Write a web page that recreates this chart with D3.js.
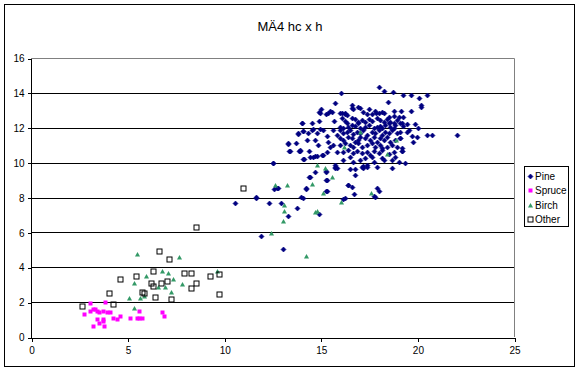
<!DOCTYPE html>
<html><head><meta charset="utf-8">
<script src="https://cdn.jsdelivr.net/npm/d3@7"></script>
<style>body{margin:0;background:#fff}svg{display:block;font-family:"Liberation Sans",Arial,sans-serif}</style>
</head><body>
<svg id="c" width="578" height="372"></svg>
<script>
const title = "MÄ4 hc x h";
const seriesNames = ["Pine","Spruce","Birch","Other"];
const xTicks = [0,5,10,15,20,25];
const yTicks = [0,2,4,6,8,10,12,14,16];

const pine = [
[18.0,14.32],[18.25,14.08],[18.75,14.05],[19.24,13.88],[19.67,13.88],[20.07,13.72],[20.48,13.88],[16.03,14.0],[18.5,13.45],[20.17,13.3],[20.17,13.2],
[19.17,12.98],[19.69,12.98],[19.24,12.63],[19.19,12.29],[19.48,12.2],[19.88,12.2],[19.24,12.1],[20.05,12.0],[19.57,11.87],[19.1,11.39],[19.7,11.52],
[19.96,11.48],[20.48,11.58],[20.74,11.58],[22.03,11.58],[19.76,11.2],[19.19,10.68],[19.36,9.99],
[15.71,13.44],[15.0,13.06],[14.9,12.9],[15.25,12.77],[15.39,12.83],[15.6,12.92],[16.08,12.83],[16.25,12.79],[16.68,13.06],
[15.47,12.96],[14.96,12.83],[14.9,12.39],[14.02,12.29],[14.52,12.29],[15.7,12.39],[14.61,11.91],[14.7,11.3],[14.82,11.68],[14.96,11.91],
[15.13,11.87],[15.33,11.53],[15.61,11.87],[15.82,11.59],[13.92,10.73],[14.13,10.19],[14.44,10.31],[14.7,10.39],[15.13,10.44],[15.3,10.63],
[15.47,10.92],[15.65,11.02],[15.82,10.63],[14.27,11.3],[15.39,11.21],[15.71,9.74],
[13.84,11.68],[14.1,11.84],[14.53,11.87],[14.35,11.68],[14.84,11.02],[13.32,11.11],[13.72,11.11],[13.37,10.69],[13.89,10.69],[14.41,10.69],
[12.54,10.0],[14.1,10.19],[14.58,10.31],[14.79,10.39],[15.04,10.44],[14.44,9.2],[14.7,9.49],[15.27,9.54],[15.3,9.01],[14.23,8.53],
[11.65,8.02],[12.72,8.53],[12.8,8.53],[15.3,8.4],[15.73,9.87],[15.82,9.68],[16.42,8.72],[16.6,8.59],[16.25,7.96],[16.51,9.62],[16.77,9.62],
[16.77,9.3],[17.17,9.68],[17.37,9.74],[17.89,9.74],[17.92,8.53],[17.75,8.09],
[14.01,12.29],[14.1,11.81],[13.8,11.64],[13.3,11.07],[13.4,10.68],[13.9,10.68],[12.51,9.99],[14.4,9.19],[14.22,8.49],[12.6,8.49],
[11.63,7.99],[13.98,8.04],[14.1,7.99],[10.54,7.7],[12.3,7.7],[12.92,7.7],[13.79,7.41],[13.3,6.96],[11.9,5.79],[13.03,5.05],[14.9,7.05],
[15.72,9.71],[17.2,9.8],[17.38,9.86],[18.67,9.71],[15.27,9.48],[15.27,9.0],[16.39,8.72],[15.27,8.37],[16.72,8.2],[18.0,8.37],[17.8,8.04],[16.17,7.91],
[16.0,12.87],[16.26,12.83],[16.38,12.75],[16.6,13.12],[16.6,13.31],[16.9,13.21],[17.04,13.12],[17.21,12.93],[17.38,12.77],[17.52,13.06],
[17.64,12.77],[17.82,12.98],[17.87,12.83],[17.99,12.83],[18.16,12.93],[18.25,12.83],[18.51,12.64],[18.77,12.68],[19.03,12.64],[18.77,12.98],
[16.09,12.54],[16.26,12.41],[16.35,12.26],[16.6,12.54],[16.78,12.49],[16.95,12.35],[17.12,12.45],[17.3,12.35],[17.47,12.49],[17.64,12.41],
[17.9,12.54],[18.08,12.45],[18.25,12.35],[18.42,12.49],[18.6,12.35],[18.77,12.3],[18.94,12.45],[19.08,12.26],[18.51,12.26],
[16.0,12.07],[16.17,11.97],[16.43,12.07],[16.6,12.16],[16.78,12.1],[16.95,12.26],[17.04,11.97],[17.3,12.07],[17.47,12.16],[17.73,11.97],
[17.9,12.07],[18.04,12.1],[18.16,11.97],[18.34,12.16],[18.6,12.07],[18.77,11.97],[18.85,12.16],
[16.0,11.87],[16.14,11.68],[16.35,11.78],[16.52,11.87],[16.69,11.65],[16.87,11.78],[17.04,11.68],[17.21,11.87],[17.38,11.59],[17.64,11.78],
[17.82,11.68],[17.99,11.87],[18.16,11.59],[18.34,11.78],[18.51,11.68],[18.68,11.87],[18.94,11.72],[19.11,11.78],[19.46,11.78],
[16.0,11.4],[16.17,11.3],[16.43,11.49],[16.6,11.4],[16.78,11.21],[16.95,11.3],[17.04,11.49],[17.3,11.4],[17.56,11.3],[17.73,11.49],
[17.9,11.21],[18.08,11.4],[18.25,11.3],[18.42,11.49],[18.6,11.21],[18.85,11.3],[19.08,11.4],
[16.0,11.02],[16.26,11.11],[16.52,11.02],[16.69,10.92],[16.95,11.11],[17.12,10.92],[17.38,11.02],[17.64,11.11],[17.82,10.92],[18.04,11.02],
[18.16,10.83],[18.42,10.92],[18.68,11.02],[18.94,10.92],[19.2,10.83],
[16.17,10.63],[16.43,10.73],[16.69,10.54],[16.87,10.69],[17.12,10.54],[17.38,10.63],[17.56,10.44],[17.73,10.69],[17.99,10.54],[18.16,10.73],
[18.51,10.5],[18.77,10.63],[19.2,10.69],
[16.17,10.16],[16.52,10.31],[16.69,10.06],[17.04,10.16],[17.3,10.25],[17.64,10.35],[17.73,10.06],[18.16,10.25],[18.25,10.16],[18.68,10.16],
[18.85,10.31],[19.03,10.06],[17.12,9.77]
];
const spruce = [
[3.05,1.93],[3.83,1.99],[2.76,1.32],[3.05,1.49],[3.19,1.59],[3.31,1.59],[3.43,1.49],[3.54,1.42],[3.74,1.49],[3.95,1.42],[4.09,1.42],
[3.43,1.02],[3.74,1.02],[3.74,0.92],[3.54,0.79],[3.23,0.63],[3.78,0.63],[4.26,1.07],[4.43,1.04],[4.61,1.21],[5.12,1.07],
[5.47,1.07],[5.61,1.07],[5.73,1.07],[5.61,1.49],[6.76,1.42],[6.9,1.21]
];
const birch = [
[5.47,4.76],[7.64,4.61],[6.76,3.79],[7.07,3.69],[5.95,3.52],[7.33,3.33],[5.33,3.08],[7.81,3.02],[6.56,2.89],[6.93,2.89],[7.25,2.58],
[5.09,2.26],[5.64,2.26],[5.85,2.37],[5.33,1.68],[9.61,3.79],
[12.63,8.72],[13.23,8.72],[13.1,7.57],[13.1,7.22],[13.03,6.67],[12.42,5.98],[14.22,4.66],[14.79,9.86],[15.22,9.71],[15.58,9.19],
[14.53,8.77],[15.1,8.24],[16.03,7.76],[17.58,8.24],[14.7,7.19],[14.79,7.22],[17.03,11.77],[16.2,10.88],[18.89,11.3],[18.41,10.49]
];
const other = [
[2.62,1.8],[4.23,1.89],[4.05,2.5],[4.61,3.31],[5.42,3.52],[5.85,2.5],[5.72,2.56],[6.21,3.08],[6.3,2.93],[6.3,3.8],[6.4,2.28],
[6.71,3.08],[7.02,3.23],[6.61,4.91],[7.12,4.49],[7.23,2.18],[7.9,3.69],[8.3,3.69],[8.3,2.79],[8.52,3.08],[9.26,3.52],[9.71,3.6],
[9.73,2.47],[10.99,8.53],[8.54,6.31]
];

const svg = d3.select("#c");
svg.append("rect").attr("x",4.5).attr("y",4.5).attr("width",570).attr("height",362)
  .attr("fill","#fff").attr("stroke","#000").attr("stroke-width",1);

const x = d3.scaleLinear().domain([0,25]).range([31,514]);
const y = d3.scaleLinear().domain([0,16]).range([337,58]);

svg.append("text").attr("x",290).attr("y",31).attr("text-anchor","middle")
  .attr("font-size",13).attr("fill","#000").text(title);

// gridlines
svg.append("g").selectAll("line").data(yTicks.filter(v=>v>0&&v<16)).join("line")
  .attr("x1",x(0)).attr("x2",x(25)).attr("y1",d=>Math.round(y(d))+0.5).attr("y2",d=>Math.round(y(d))+0.5)
  .attr("stroke","#000").attr("stroke-width",1);
// plot border top/right gray
svg.append("path").attr("d",`M${x(0)},${Math.round(y(16))+0.5}H${Math.round(x(25))+0.5}V${Math.round(y(0))}`)
  .attr("fill","none").attr("stroke","#808080");

const gy = svg.append("g").attr("transform",`translate(${Math.round(x(0))+0.5},0.5)`)
  .call(d3.axisLeft(y).tickValues(yTicks).tickSize(4).tickPadding(3).tickSizeOuter(0));
const gx = svg.append("g").attr("transform",`translate(0.5,${Math.round(y(0))+0.5})`)
  .call(d3.axisBottom(x).tickValues(xTicks).tickSize(4).tickPadding(5).tickSizeOuter(0));
[gy,gx].forEach(g=>{
  g.selectAll("path,line").attr("stroke","#000").attr("shape-rendering","crispEdges");
  g.selectAll("text").attr("font-size",10).attr("fill","#000").attr("font-family","Liberation Sans, Arial, sans-serif");
});
gx.selectAll("text").attr("dy","0.71em");
gy.selectAll("path").attr("d",`M0,${y(16)}V${y(0)}`);

const sym = {
  Pine: g=>g.append("path").attr("d","M0,-2.5L2.5,0L0,2.5L-2.5,0Z").attr("fill","#000080").attr("stroke","#000080").attr("stroke-width",0.6),
  Spruce: g=>g.append("rect").attr("x",-2).attr("y",-2).attr("width",4).attr("height",4).attr("fill","#ff00ff"),
  Birch: g=>g.append("path").attr("d","M0,-2.5L2.5,2L-2.5,2Z").attr("fill","#339966"),
  Other: g=>g.append("rect").attr("x",-2.5).attr("y",-2.5).attr("width",5).attr("height",5).attr("fill","none").attr("stroke","#000").attr("stroke-width",1)
};
const data = {Pine:pine,Spruce:spruce,Birch:birch,Other:other};
seriesNames.forEach(n=>{
  const g = svg.append("g");
  data[n].forEach(d=>{
    const m = g.append("g").attr("transform",`translate(${Math.round(x(d[0]))+0.5},${Math.round(y(d[1]))+0.5})`);
    sym[n](m);
  });
});

// legend
const lg = svg.append("g");
lg.append("rect").attr("x",524.5).attr("y",166.5).attr("width",44).attr("height",60)
  .attr("fill","#fff").attr("stroke","#000");
seriesNames.forEach((n,i)=>{
  const yy = 175.5 + i*14.5;
  const m = lg.append("g").attr("transform",`translate(530.5,${Math.round(yy)+0.5})`);
  sym[n](m);
  lg.append("text").attr("x",535).attr("y",Math.round(yy)+4).attr("font-size",10).attr("fill","#000").text(n);
});
</script>
</body></html>
